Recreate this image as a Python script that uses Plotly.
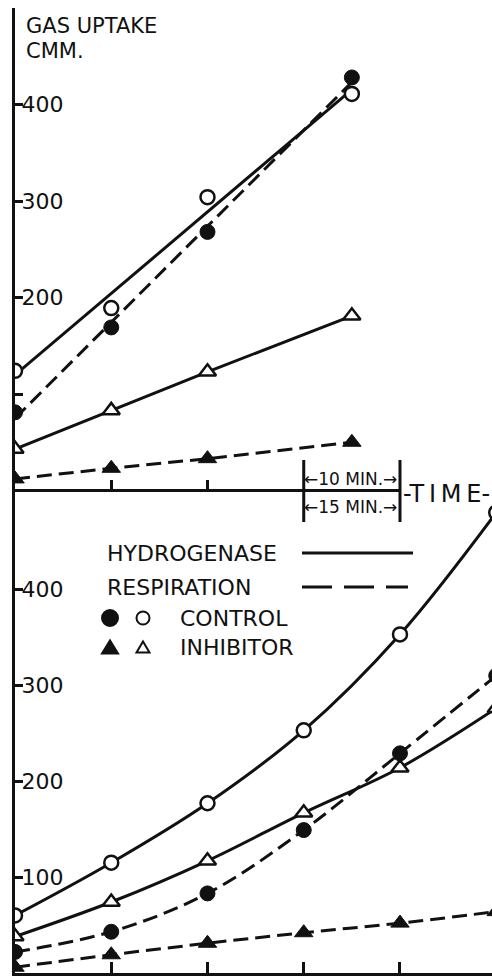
import numpy as np
import plotly.graph_objects as go

# ---------------- data ----------------
# Upper panel (time unit: 10 min per division)
top_time = [0, 10, 20, 35]
top_h_control = [124, 189, 304, 411]   # hydrogenase, control (open circles)
top_r_control = [81, 169, 268, 428]    # respiration, control (filled circles)
top_h_inhib = [43, 83, 123, 181]       # hydrogenase, inhibitor (open triangles)
top_r_inhib = [12, 23, 33, 50]         # respiration, inhibitor (filled triangles)

# Lower panel (time unit: 15 min per division)
bot_time = [0, 15, 30, 45, 60, 75]
bot_h_control = [60, 115, 177, 253, 353, 480]
bot_h_inhib = [38, 74, 117, 167, 214, 276]
bot_r_control = [22, 43, 83, 149, 229, 310]
bot_r_inhib = [6, 19, 31, 42, 52, 64]

y_ticks = [100, 200, 300, 400]
top_y_labels = ["", "200", "300", "400"]
bot_y_labels = ["100", "200", "300", "400"]

W, H = 492, 976
ML, MR, MT, MB = 15, 0, 8, 3
PW, PH = W - ML - MR, H - MT - MB
FONT = "DejaVu Sans"
INK = "#111111"
AXW = 3

top_xrange = [0, 49.56]
bot_xrange = [0, 74.34]
top_yrange = [0, 500]
bot_yrange = [0, 503]


def px2x(px):
    return (px - ML) / PW


def py2y(py):
    return (H - MB - py) / PH


fig = go.Figure()

# linear fits for upper-panel control series
fit_x = np.array([top_time[0], top_time[-1]], dtype=float)
h_fit = np.polyfit(top_time, top_h_control, 1)
r_fit = np.polyfit(top_time, top_r_control, 1)

LW = 3
DASH = "15px,7px"

# ---- lines (upper) ----
fig.add_trace(go.Scatter(x=fit_x, y=np.polyval(h_fit, fit_x), mode="lines",
                         line=dict(color=INK, width=LW), xaxis="x", yaxis="y"))
fig.add_trace(go.Scatter(x=fit_x, y=np.polyval(r_fit, fit_x), mode="lines",
                         line=dict(color=INK, width=LW, dash=DASH), xaxis="x", yaxis="y"))
fig.add_trace(go.Scatter(x=top_time, y=top_h_inhib, mode="lines",
                         line=dict(color=INK, width=LW), xaxis="x", yaxis="y"))
fig.add_trace(go.Scatter(x=top_time, y=top_r_inhib, mode="lines",
                         line=dict(color=INK, width=LW, dash=DASH), xaxis="x", yaxis="y"))

# ---- lines (lower) ----
for ys, dash in [(bot_h_control, None), (bot_h_inhib, None),
                 (bot_r_control, DASH), (bot_r_inhib, DASH)]:
    fig.add_trace(go.Scatter(x=bot_time, y=ys, mode="lines",
                             line=dict(color=INK, width=LW, dash=dash, shape="spline"),
                             xaxis="x2", yaxis="y2"))

# ---- markers ----
open_circle = dict(symbol="circle", size=14, color="white", line=dict(color=INK, width=2.5))
fill_circle = dict(symbol="circle", size=15, color=INK, line=dict(color=INK, width=1))
open_tri = dict(symbol="triangle-up", size=15, color="white", line=dict(color=INK, width=2.5))
fill_tri = dict(symbol="triangle-up", size=16, color=INK, line=dict(color=INK, width=1))

for xs, ys, mk, xa, ya in [
    (top_time, top_h_control, open_circle, "x", "y"),
    (top_time, top_r_control, fill_circle, "x", "y"),
    (top_time, top_h_inhib, open_tri, "x", "y"),
    (top_time, top_r_inhib, fill_tri, "x", "y"),
    (bot_time, bot_h_control, open_circle, "x2", "y2"),
    (bot_time, bot_r_control, fill_circle, "x2", "y2"),
    (bot_time, bot_h_inhib, open_tri, "x2", "y2"),
    (bot_time, bot_r_inhib, fill_tri, "x2", "y2"),
]:
    fig.add_trace(go.Scatter(x=xs, y=ys, mode="markers", marker=mk, xaxis=xa, yaxis=ya,
                             hoverinfo="skip"))

axis_font = dict(family=FONT, size=22, color=INK)
common_off = dict(showgrid=False, zeroline=False)

fig.update_layout(
    width=W, height=H,
    margin=dict(l=ML, r=MR, t=MT, b=MB, autoexpand=False),
    paper_bgcolor="white", plot_bgcolor="white",
    showlegend=False,
    font=dict(family=FONT, color=INK),
    xaxis=dict(domain=[0, 1], anchor="y", range=top_xrange, showline=False,
               ticks="inside", tickvals=[10, 20], ticklen=11, tickwidth=AXW,
               tickcolor=INK, showticklabels=False, **common_off),
    yaxis=dict(domain=[0.5, 1], anchor="x", range=top_yrange, showline=True,
               linecolor=INK, linewidth=AXW, ticks="inside", ticklen=8, tickwidth=AXW,
               tickcolor=INK, tickvals=y_ticks, ticktext=top_y_labels,
               ticklabelposition="inside", tickfont=axis_font, **common_off),
    xaxis2=dict(domain=[0, 1], anchor="y2", range=bot_xrange, showline=True,
                linecolor=INK, linewidth=AXW, ticks="inside",
                tickvals=[15, 30, 45, 60], ticklen=11, tickwidth=AXW, tickcolor=INK,
                showticklabels=False, **common_off),
    yaxis2=dict(domain=[0, 0.5], anchor="x2", range=bot_yrange, showline=True,
                linecolor=INK, linewidth=AXW, ticks="inside", ticklen=8, tickwidth=AXW,
                tickcolor=INK, tickvals=y_ticks, ticktext=bot_y_labels,
                ticklabelposition="inside", tickfont=axis_font, **common_off),
    xaxis3=dict(overlaying="x", anchor="y", side="top", range=top_xrange,
                showline=True, linecolor=INK, linewidth=AXW, ticks="inside",
                tickvals=[20, 30, 40], ticklen=12, tickwidth=AXW, tickcolor=INK,
                showticklabels=False, **common_off),
    xaxis4=dict(overlaying="x2", anchor="y2", side="top", range=bot_xrange,
                showline=False, ticks="inside", tickvals=[15, 30], ticklen=9,
                tickwidth=AXW, tickcolor=INK, showticklabels=False, **common_off),
    yaxis3=dict(overlaying="y", anchor="x", side="right", range=top_yrange,
                showline=False, ticks="inside", tickvals=y_ticks, ticklen=6,
                tickwidth=AXW, tickcolor=INK, showticklabels=False, **common_off),
    yaxis4=dict(overlaying="y2", anchor="x2", side="right", range=bot_yrange,
                showline=False, ticks="inside", tickvals=y_ticks, ticklen=6,
                tickwidth=AXW, tickcolor=INK, showticklabels=False, **common_off),
)

shapes = []
# middle time axis line, stops at the 40-unit mark of the upper time scale
x_end = 40 / top_xrange[1]
shapes.append(dict(type="line", xref="paper", yref="paper", x0=0, x1=x_end,
                   y0=0.5, y1=0.5, line=dict(color=INK, width=AXW)))
# bracket verticals (at 30 and 40 on the upper time scale)
for xv in (30, 40):
    xp = xv / top_xrange[1]
    shapes.append(dict(type="line", xref="paper", yref="paper", x0=xp, x1=xp,
                       y0=py2y(522), y1=py2y(460), line=dict(color=INK, width=AXW)))

# legend line samples
shapes.append(dict(type="line", xref="paper", yref="paper",
                   x0=px2x(302), x1=px2x(413), y0=py2y(553), y1=py2y(553),
                   line=dict(color=INK, width=3)))
shapes.append(dict(type="line", xref="paper", yref="paper",
                   x0=px2x(302), x1=px2x(408), y0=py2y(587), y1=py2y(587),
                   line=dict(color=INK, width=3, dash="30px,12px")))


# legend symbols
def circle(cx, cy, r, filled):
    return dict(type="circle", xref="paper", yref="paper",
                x0=px2x(cx - r), x1=px2x(cx + r), y0=py2y(cy + r), y1=py2y(cy - r),
                fillcolor=INK if filled else "white", line=dict(color=INK, width=2))


def tri(cx, cy, w, h, filled):
    pts = [(cx - w / 2, cy + h / 2), (cx + w / 2, cy + h / 2), (cx, cy - h / 2)]
    path = "M " + " L ".join(f"{px2x(a):.5f},{py2y(b):.5f}" for a, b in pts) + " Z"
    return dict(type="path", xref="paper", yref="paper", path=path,
                fillcolor=INK if filled else "white", line=dict(color=INK, width=2))


shapes += [circle(110, 618, 8, True), circle(143, 618, 6.5, False),
           tri(110, 647, 16, 13, True), tri(143, 647, 13, 11, False)]

fig.update_layout(shapes=shapes)


def txt(text, px, py, size, xanchor="left"):
    return dict(text=text, xref="paper", yref="paper", x=px2x(px), y=py2y(py),
                xanchor=xanchor, yanchor="middle", showarrow=False, borderpad=0,
                font=dict(family=FONT, size=size, color=INK))


annotations = [
    txt("GAS UPTAKE", 25, 26, 21),
    txt("CMM.", 25, 51, 21),
    txt("\u219010 MIN.\u2192", 350.5, 479, 17, "center"),
    txt("\u219015 MIN.\u2192", 350.5, 507, 17, "center"),
    txt("-T\u2009I\u2009M\u2009E-", 402, 494, 24),
    txt("HYDROGENASE", 106, 553, 22),
    txt("RESPIRATION", 106, 587, 22),
    txt("CONTROL", 179, 618, 22),
    txt("INHIBITOR", 179, 647, 22),
]
fig.update_layout(annotations=annotations)

fig.write_html(
    "out.html",
    config={"displayModeBar": False, "staticPlot": True},
    post_script="document.body.style.margin='0';document.body.style.overflow='hidden';",
)
